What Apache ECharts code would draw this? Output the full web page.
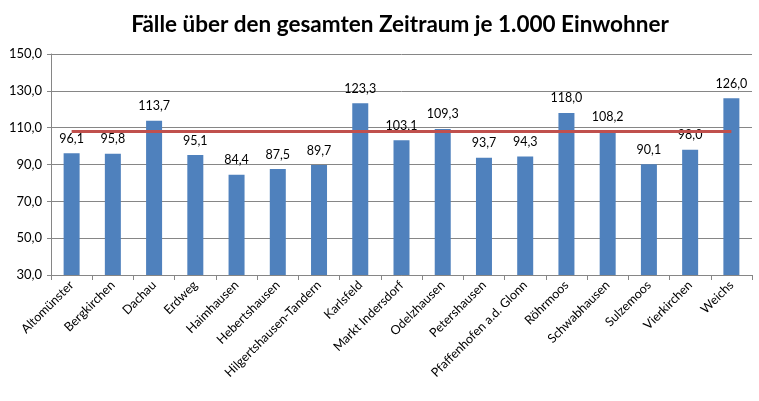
<!DOCTYPE html>
<html><head><meta charset="utf-8">
<script src="https://cdn.jsdelivr.net/npm/echarts@6/dist/echarts.min.js"></script>
<style>html,body{margin:0;padding:0;background:#fff}#c{width:759px;height:401px}</style>
</head><body><div id="c"></div>
<script>
const categories = ["Altomünster","Bergkirchen","Dachau","Erdweg","Haimhausen","Hebertshausen","Hilgertshausen-Tandern","Karlsfeld","Markt Indersdorf","Odelzhausen","Petershausen","Pfaffenhofen a.d. Glonn","Röhrmoos","Schwabhausen","Sulzemoos","Vierkirchen","Weichs"];
const values = [96.1,95.8,113.7,95.1,84.4,87.5,89.7,123.3,103.1,109.3,93.7,94.3,118.0,108.2,90.1,98.0,126.0];
const averageValue = 107.9;
const averageLine = categories.map(() => averageValue);
const fmt = v => v.toFixed(1).replace('.', ',');
const FONT = 'Lato';
const chart = echarts.init(document.getElementById('c'));
chart.setOption({
  animation: false,
  title: { text: 'Fälle über den gesamten Zeitraum je 1.000 Einwohner', left: 395, top: 8, textAlign: 'center',
    textStyle: { fontFamily: FONT, fontSize: 22.5, fontWeight: 'bold', color: '#000' } },
  grid: { left: 51, right: 7, top: 54, bottom: 126 },
  xAxis: { type: 'category', data: categories,
    axisLine: { lineStyle: { color: '#868686' } },
    axisTick: { show: true, alignWithLabel: false, length: 5, lineStyle: { color: '#868686' } },
    axisLabel: { rotate: 45, interval: 0, fontFamily: FONT, fontSize: 12.5, color: '#000', margin: 8 } },
  yAxis: { type: 'value', min: 30, max: 150, interval: 20,
    axisLine: { show: true, lineStyle: { color: '#868686' } },
    axisTick: { show: true, length: 4, lineStyle: { color: '#868686' } },
    splitLine: { lineStyle: { color: '#868686' } },
    axisLabel: { formatter: v => fmt(v), fontFamily: FONT, fontSize: 13, color: '#000', margin: 9 } },
  series: [
    { type: 'bar', data: values, barWidth: 16, itemStyle: { color: '#4F81BD' },
      label: { show: true, position: 'top', distance: 8, formatter: p => fmt(p.value), fontFamily: FONT, fontSize: 12.5, color: '#000' } },
    { type: 'line', data: averageLine, symbol: 'none', lineStyle: { color: '#C0504D', width: 3 }, z: 3 }
  ]
});
</script></body></html>
